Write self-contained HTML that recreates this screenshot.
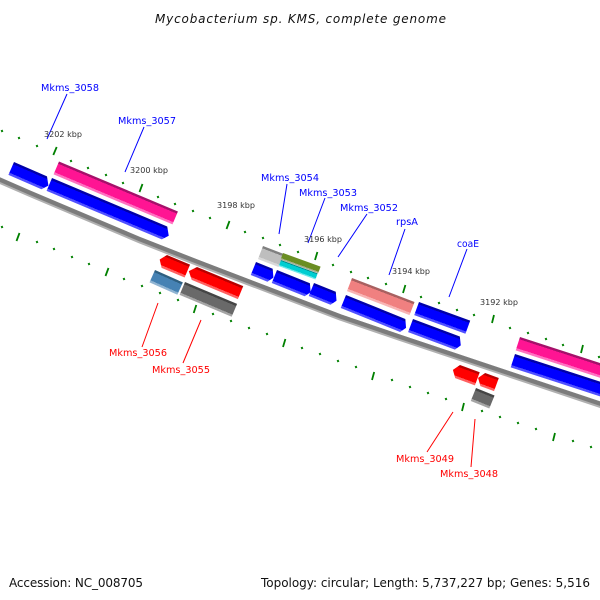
<!DOCTYPE html>
<html><head><meta charset="utf-8"><style>
html,body{margin:0;padding:0;background:#fff;width:600px;height:600px;overflow:hidden}
svg{display:block}
text{font-family:"DejaVu Sans","Liberation Sans",sans-serif}
.b{fill:#0000ff;font-size:10px}.r{fill:#ff0000;font-size:10px}
.k{fill:#333;font-size:8px}.m{fill:#111;font-size:12px}
</style></head><body>
<svg xmlns="http://www.w3.org/2000/svg" width="600" height="600" viewBox="0 0 600 600">
<defs>
<linearGradient id="blue" x1="0" y1="0" x2="0" y2="1"><stop offset=".17" stop-color="#0000a8"/><stop offset=".17" stop-color="#0000ff"/><stop offset=".83" stop-color="#0000ff"/><stop offset=".83" stop-color="#5050ff"/></linearGradient>
<linearGradient id="pink" x1="0" y1="0" x2="0" y2="1"><stop offset=".17" stop-color="#a5106a"/><stop offset=".17" stop-color="#ff1493"/><stop offset=".83" stop-color="#ff1493"/><stop offset=".83" stop-color="#ff70c0"/></linearGradient>
<linearGradient id="red" x1="0" y1="0" x2="0" y2="1"><stop offset=".17" stop-color="#b80000"/><stop offset=".17" stop-color="#ff0000"/><stop offset=".83" stop-color="#ff0000"/><stop offset=".83" stop-color="#ff6060"/></linearGradient>
<linearGradient id="gray" x1="0" y1="0" x2="0" y2="1"><stop offset=".17" stop-color="#454545"/><stop offset=".17" stop-color="#696969"/><stop offset=".83" stop-color="#696969"/><stop offset=".83" stop-color="#a5a5a5"/></linearGradient>
<linearGradient id="steel" x1="0" y1="0" x2="0" y2="1"><stop offset=".17" stop-color="#2f5f80"/><stop offset=".17" stop-color="#4682b4"/><stop offset=".83" stop-color="#4682b4"/><stop offset=".83" stop-color="#90b4d2"/></linearGradient>
<linearGradient id="lg" x1="0" y1="0" x2="0" y2="1"><stop offset=".17" stop-color="#808080"/><stop offset=".17" stop-color="#bebebe"/><stop offset=".83" stop-color="#bebebe"/><stop offset=".83" stop-color="#d8d8d8"/></linearGradient>
<linearGradient id="olive" x1="0" y1="0" x2="0" y2="1"><stop offset=".78" stop-color="#6b8e23"/><stop offset=".78" stop-color="#a8b090"/></linearGradient>
<linearGradient id="cyan" x1="0" y1="0" x2="0" y2="1"><stop offset=".15" stop-color="#008b8b"/><stop offset=".15" stop-color="#00ced1"/><stop offset=".8" stop-color="#00ced1"/><stop offset=".8" stop-color="#70e8ea"/></linearGradient>
<linearGradient id="sal" x1="0" y1="0" x2="0" y2="1"><stop offset=".17" stop-color="#a86060"/><stop offset=".17" stop-color="#f08080"/><stop offset=".83" stop-color="#f08080"/><stop offset=".83" stop-color="#f8b4b4"/></linearGradient>
</defs>

<!-- backbone -->
<path d="M-2 179.800L30 193.800L140 240.300L200 263.800L340 317.300L400 337.800L602 405.300" fill="none" stroke="#b0b0b0" stroke-width="6.300"/>
<path d="M-2 178.800L30 192.800L140 239.300L200 262.800L340 316.300L400 336.800L602 404.300" fill="none" stroke="#7c7c7c" stroke-width="4.300"/>

<!-- ticks -->
<path fill="none" stroke="#008000" stroke-width="2" d="M1.600 130l.8 2M18.600 137l.8 2M36.600 145l.8 2M70.600 160l.8 2M87.600 167l.8 2M105.600 174l.8 2M122.600 182l.8 2M157.600 196l.8 2M174.600 203l.8 2M192.600 210l.8 2M209.600 217l.8 2M244.600 231l.8 2M262.600 237l.8 2M279.600 244l.8 2M297.600 251l.8 2M332.600 264l.8 2M350.600 271l.8 2M367.600 277l.8 2M385.600 283l.8 2M420.600 296l.8 2M438.600 302l.8 2M456.600 309l.8 2M473.600 314l.8 2M509.600 327l.8 2M527.600 332l.8 2M545.600 338l.8 2M562.600 344l.8 2M598.600 356l.8 2M1.600 226l.8 2M36.600 241l.8 2M53.600 248l.8 2M71.600 256l.8 2M88.600 263l.8 2M123.600 278l.8 2M141.600 285l.8 2M159.600 292l.8 2M177.600 299l.8 2M212.600 313l.8 2M230.600 320l.8 2M248.600 327l.8 2M266.600 333l.8 2M301.600 347l.8 2M319.600 353l.8 2M337.600 360l.8 2M355.600 366l.8 2M391.600 379l.8 2M409.600 386l.8 2M427.600 392l.8 2M445.600 398l.8 2M481.600 410l.8 2M499.600 416l.8 2M517.600 422l.8 2M535.600 428l.8 2M572.600 440l.8 2M590.600 446l.8 2"/>
<path fill="none" stroke="#008000" stroke-width="1.800" d="M53.300 155l3.400 -8M139.500 192l3 -8M226.500 229l3 -8M315 260l2.400 -8M403 293l2.400 -8M492 323l2 -8M581 353l2 -8M16.500 241l3 -8M105.500 276l3 -8M193.700 313l2.600 -8M283 347l2.400 -8M372 380l2.200 -8M462 411l2 -8M553 441l2 -8"/>

<!-- genes -->
<g transform="translate(14,162) rotate(23.500)"><polygon fill="url(#blue)" points="0,0 36,0 41,8 36,14 0,14"/></g>
<g transform="translate(52,178) rotate(22.800)"><polygon fill="url(#blue)" points="0,0 125,0 130,8 125,14 0,14"/></g>
<g transform="translate(59,161.500) rotate(22.800)"><rect fill="url(#pink)" width="129" height="14"/></g>
<g transform="translate(162.400,253) rotate(22.800)"><polygon fill="url(#red)" points="5,0 30,0 30,14 5,14 0,7"/></g>
<g transform="translate(155,270) rotate(24)"><rect fill="url(#steel)" width="30.500" height="13.500"/></g>
<g transform="translate(191.500,264.700) rotate(22.500)"><polygon fill="url(#red)" points="6,0 56,0 56,14 6,14 0,7"/></g>
<g transform="translate(185,282) rotate(22.800)"><rect fill="url(#gray)" width="56.500" height="14"/></g>
<g transform="translate(263,246) rotate(21)"><rect fill="url(#lg)" width="22" height="14"/></g>
<g transform="translate(283,253) rotate(20)"><rect fill="url(#olive)" width="40" height="7"/></g>
<g transform="translate(281,260) rotate(20)"><rect fill="url(#cyan)" width="39" height="6.500"/></g>
<g transform="translate(256,262) rotate(22)"><polygon fill="url(#blue)" points="0,0 18,0 22,8 18,14 0,14"/></g>
<g transform="translate(277,270) rotate(22)"><polygon fill="url(#blue)" points="0,0 35.500,0 39.500,8 35.500,14 0,14"/></g>
<g transform="translate(314,283) rotate(22)"><polygon fill="url(#blue)" points="0,0 23.500,0 27.500,8 23.500,14 0,14"/></g>
<g transform="translate(346,295) rotate(22)"><polygon fill="url(#blue)" points="0,0 64,0 68,8 64,14 0,14"/></g>
<g transform="translate(352,278) rotate(21)"><rect fill="url(#sal)" width="67" height="14"/></g>
<g transform="translate(419,302) rotate(20)"><rect fill="url(#blue)" width="54.500" height="14"/></g>
<g transform="translate(413,319) rotate(20.500)"><polygon fill="url(#blue)" points="0,0 50,0 54,8 50,14 0,14"/></g>
<g transform="translate(455.300,363.300) rotate(20)"><polygon fill="url(#red)" points="5,0 26,0 26,14 5,14 0,7"/></g>
<g transform="translate(480.500,371.300) rotate(20)"><polygon fill="url(#red)" points="5,0 19.500,0 19.500,14 5,14 0,7"/></g>
<g transform="translate(476,388) rotate(22)"><rect fill="url(#gray)" width="20" height="14"/></g>
<g transform="translate(520,337) rotate(18)"><rect fill="url(#pink)" width="100" height="14"/></g>
<g transform="translate(515,354) rotate(18)"><rect fill="url(#blue)" width="100" height="14"/></g>

<!-- connectors -->
<path fill="none" stroke="#0000ff" d="M67 94L47 139M144 127L125 172M287 184L279 234M325 198L308 243M367 214L338 257M405 229L389 275M467 249L449 297"/>
<path fill="none" stroke="#ff0000" d="M158 303L142 347M201 320L183 363M453 412L427 452M475 419L471 467"/>

<!-- labels -->
<text class="b" x="41" y="91" textLength="58" lengthAdjust="spacingAndGlyphs">Mkms_3058</text>
<text class="b" x="118" y="124" textLength="58" lengthAdjust="spacingAndGlyphs">Mkms_3057</text>
<text class="b" x="261" y="181" textLength="58" lengthAdjust="spacingAndGlyphs">Mkms_3054</text>
<text class="b" x="299" y="196" textLength="58" lengthAdjust="spacingAndGlyphs">Mkms_3053</text>
<text class="b" x="340" y="211" textLength="58" lengthAdjust="spacingAndGlyphs">Mkms_3052</text>
<text class="b" x="396" y="225" textLength="22" lengthAdjust="spacingAndGlyphs">rpsA</text>
<text class="b" x="457" y="247" textLength="22" lengthAdjust="spacingAndGlyphs">coaE</text>
<text class="r" x="109" y="356" textLength="58" lengthAdjust="spacingAndGlyphs">Mkms_3056</text>
<text class="r" x="152" y="373" textLength="58" lengthAdjust="spacingAndGlyphs">Mkms_3055</text>
<text class="r" x="396" y="462" textLength="58" lengthAdjust="spacingAndGlyphs">Mkms_3049</text>
<text class="r" x="440" y="477" textLength="58" lengthAdjust="spacingAndGlyphs">Mkms_3048</text>

<text class="k" x="44" y="137" textLength="38" lengthAdjust="spacingAndGlyphs">3202 kbp</text>
<text class="k" x="130" y="173" textLength="38" lengthAdjust="spacingAndGlyphs">3200 kbp</text>
<text class="k" x="217" y="208" textLength="38" lengthAdjust="spacingAndGlyphs">3198 kbp</text>
<text class="k" x="304" y="242" textLength="38" lengthAdjust="spacingAndGlyphs">3196 kbp</text>
<text class="k" x="392" y="274" textLength="38" lengthAdjust="spacingAndGlyphs">3194 kbp</text>
<text class="k" x="480" y="305" textLength="38" lengthAdjust="spacingAndGlyphs">3192 kbp</text>

<text class="m" x="155" y="23" font-style="italic" textLength="291">Mycobacterium sp. KMS, complete genome</text>
<text class="m" x="9" y="587" textLength="134">Accession: NC_008705</text>
<text class="m" x="261" y="587" textLength="329">Topology: circular; Length: 5,737,227 bp; Genes: 5,516</text>
</svg>
</body></html>
